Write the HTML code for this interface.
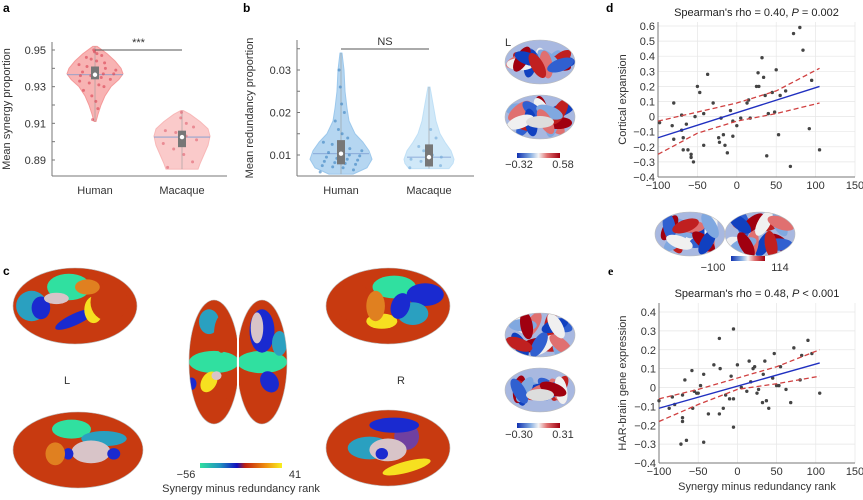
<!DOCTYPE html>
<html><head><meta charset="utf-8"><style>
body{margin:0;background:#fff;}
svg{display:block;font-family:"Liberation Sans",sans-serif;}
</style></head><body>
<svg id="fig" width="863" height="500" viewBox="0 0 863 500">
<defs>
<linearGradient id="bwr" x1="0" x2="1"><stop offset="0" stop-color="#1030b0"/><stop offset="0.3" stop-color="#80a8e0"/><stop offset="0.5" stop-color="#f4f4f4"/><stop offset="0.7" stop-color="#e07070"/><stop offset="1" stop-color="#a00010"/></linearGradient>
<linearGradient id="rank" x1="0" x2="1"><stop offset="0" stop-color="#30e0a0"/><stop offset="0.25" stop-color="#2090c0"/><stop offset="0.45" stop-color="#1010c0"/><stop offset="0.55" stop-color="#c02010"/><stop offset="0.8" stop-color="#f09010"/><stop offset="1" stop-color="#f8f020"/></linearGradient>
</defs>
<g id="labels" font-weight="bold" font-size="12">
<text x="3" y="12">a</text>
<text x="243" y="12">b</text>
<text x="3" y="275">c</text>
<text x="606" y="12">d</text>
<text x="608" y="275" font-family="Liberation Serif">e</text>
</g>
<g id="brains"></g>
<g id="pa"></g><g id="pb"></g><g id="pd"></g><g id="pe"></g>
</svg>
<script>
const NS="http://www.w3.org/2000/svg";
function el(t,a,p,txt){const e=document.createElementNS(NS,t);for(const k in a)e.setAttribute(k,a[k]);if(txt!==undefined)e.textContent=txt;(p||document.getElementById('fig')).appendChild(e);return e;}

// ---- Panel a data ----
const aCategories=["Human","Macaque"];
const aTicks=[0.89,0.91,0.93,0.95];
const aMedians=[0.9365,0.9025];
const aQ1=[0.934,0.897];const aQ3=[0.941,0.906];
const aViolinY_H=[0.911,0.915,0.92,0.925,0.93,0.934,0.937,0.94,0.944,0.948,0.952];
const aViolinW_H=[1,3,6,10,16,24,28,26,20,12,2];
const aViolinY_M=[0.885,0.888,0.893,0.898,0.903,0.907,0.911,0.915,0.917];
const aViolinW_M=[16,18,22,26,28,26,18,8,1];
const aPointsH=[0.912,0.918,0.922,0.925,0.928,0.930,0.931,0.932,0.933,0.934,0.935,0.936,0.936,0.937,0.937,0.938,0.938,0.939,0.94,0.94,0.941,0.942,0.943,0.944,0.945,0.946,0.947,0.948,0.949,0.95];
const aPointsM=[0.886,0.889,0.893,0.896,0.899,0.901,0.903,0.905,0.906,0.908,0.91,0.913,0.916];

// ---- Panel b data ----
const bCategories=["Human","Macaque"];
const bTicks=[0.01,0.02,0.03];
const bMedians=[0.0103,0.0095];
const bQ1=[0.0078,0.0073];const bQ3=[0.0135,0.0125];
const bViolinY_H=[0.0055,0.007,0.009,0.011,0.013,0.015,0.018,0.021,0.025,0.03,0.034];
const bViolinW_H=[12,26,31,28,22,14,8,6,4,3,1];
const bViolinY_M=[0.0068,0.008,0.009,0.011,0.013,0.015,0.018,0.022,0.026];
const bViolinW_M=[20,24,25,22,16,11,7,4,1];
const bPointsH=[0.006,0.0065,0.007,0.0072,0.0075,0.0078,0.008,0.0082,0.0085,0.0088,0.009,0.0092,0.0095,0.0098,0.01,0.0103,0.0106,0.011,0.0115,0.012,0.0125,0.013,0.014,0.015,0.016,0.018,0.02,0.022,0.026,0.03];
const bPointsM=[0.007,0.0075,0.008,0.0085,0.009,0.0095,0.01,0.011,0.012,0.014,0.016];

// ---- Panel d data ----
const dX=[-98,-82,-80,-80,-70,-70,-68,-68,-64,-62,-58,-58,-55,-53,-50,-47,-42,-42,-37,-30,-23,-22,-20,-17,-15,-12,-8,-5,-5,0,5,13,15,17,25,27,28,32,34,36,38,40,45,48,50,53,55,62,68,72,80,84,92,95,105];
const dY=[-0.04,-0.06,0.09,-0.15,0.01,-0.09,-0.14,-0.22,-0.05,-0.22,-0.25,-0.27,-0.30,0,0.20,0.16,0.02,-0.19,0.28,0.09,-0.14,-0.17,-0.01,-0.12,-0.19,-0.24,0.04,-0.03,-0.13,-0.06,-0.01,0.09,0.11,-0.01,0.2,0.29,0.2,0.39,0.26,0.14,-0.26,0.02,0.16,0.03,0.31,-0.12,0.14,0.17,-0.33,0.55,0.59,0.44,-0.08,0.24,-0.22];
const dFitX=[-100,105];const dFitY=[-0.14,0.2];
const dCiX=[-100,-50,0,50,105];
const dCiUp=[-0.03,0.03,0.09,0.17,0.32];
const dCiLo=[-0.25,-0.11,-0.03,0.02,0.09];
const dXTicks=[-100,-50,0,50,100,150];
const dYTicks=[-0.4,-0.3,-0.2,-0.1,0,0.1,0.2,0.3,0.4,0.5,0.6];

// ---- Panel e data ----
const eX=[-100,-87,-83,-80,-70,-70,-70,-72,-67,-65,-58,-57,-55,-52,-50,-47,-43,-43,-37,-30,-23,-23,-22,-18,-15,-10,-8,-5,-5,-5,0,5,12,15,17,20,22,25,27,32,33,35,37,40,45,47,50,53,55,62,68,72,80,82,90,95,105];
const eY=[-0.07,-0.11,-0.05,-0.09,-0.04,-0.16,-0.18,-0.30,0.04,-0.28,0.09,-0.11,-0.02,-0.03,-0.03,0.01,0.07,-0.29,-0.14,0.12,0.26,-0.14,0.10,-0.11,-0.04,-0.06,0.06,-0.06,0.31,-0.21,0.12,0,-0.02,0.14,0.03,0.10,0.11,-0.03,-0.01,-0.08,0.07,0.14,-0.07,-0.11,0.05,0.18,0.01,0.01,0.11,-0.01,-0.08,0.21,0.04,0.17,0.25,0.18,-0.03];
const eFitX=[-100,105];const eFitY=[-0.11,0.13];
const eCiX=[-100,-50,0,50,105];
const eCiUp=[-0.06,-0.01,0.05,0.11,0.20];
const eCiLo=[-0.18,-0.09,-0.01,0.02,0.06];
const eXTicks=[-100,-50,0,50,100,150];
const eYTicks=[-0.4,-0.3,-0.2,-0.1,0,0.1,0.2,0.3,0.4];

function lin(d0,d1,r0,r1){return v=>r0+(v-d0)*(r1-r0)/(d1-d0);}

function violinPanel(g,cfg){
  const {y,cx,axL,axB,axT,ticks,fmt,cats,vy,vw,pts,q1,q3,med,fill,ptc,boxc,sig,sigY,ylab,ylabX,minor}=cfg;
  el('line',{x1:axL,y1:axT,x2:axL,y2:axB,stroke:'#777','stroke-width':1},g);
  el('line',{x1:axL,y1:axB,x2:cx[1]+45,y2:axB,stroke:'#777','stroke-width':1},g);
  minor.forEach(t=>{const l=el('line',{x1:axL,x2:axL+3,y1:y(t),y2:y(t),stroke:'#777'},g);});
  ticks.forEach(t=>{el('line',{x1:axL,x2:axL+3,y1:y(t),y2:y(t),stroke:'#777'},g);
    const tx=el('text',{x:axL-6,y:y(t)+4,'text-anchor':'end','font-size':11,fill:'#333'},g,fmt(t));
    });
  const yl=el('text',{x:ylabX,y:(axT+axB)/2,'text-anchor':'middle','font-size':11,fill:'#333',transform:`rotate(-90 ${ylabX} ${(axT+axB)/2})`},g,ylab);
  
  cats.forEach((c,i)=>{
    const x=cx[i];let L=[],R=[];
    vy[i].forEach((v,j)=>{L.push(`${x-vw[i][j]},${y(v)}`);R.unshift(`${x+vw[i][j]},${y(v)}`);});
    const p=el('polygon',{points:L.concat(R).join(' '),fill:fill[i],stroke:fill[i],'stroke-width':1,'stroke-linejoin':'round','fill-opacity':0.75},g);
    
    const mw=vw[i][vy[i].findIndex(v=>v>=med[i])]||20;
    el('line',{x1:x-mw,x2:x+mw,y1:y(med[i]),y2:y(med[i]),stroke:'#7a9ad0','stroke-width':0.8},g);
    el('line',{x1:x,x2:x,y1:y(vy[i][0]),y2:y(vy[i][vy[i].length-1]),stroke:'#999','stroke-width':0.6},g);
    pts[i].forEach((v,k)=>{const off=((k*37)%21-10)/10*Math.min(vw[i][vy[i].findIndex(q=>q>=v)]||5,26)*0.8;
      const d=el('circle',{cx:x+off,cy:y(v),r:1.5,fill:ptc[i],'fill-opacity':0.6},g);});
    const b=el('rect',{x:x-4,y:y(q3[i]),width:8,height:y(q1[i])-y(q3[i]),fill:boxc},g);
    el('circle',{cx:x,cy:y(med[i]),r:2.2,fill:'#fff'},g);
    const t=el('text',{x:x,y:axB+18,'text-anchor':'middle','font-size':11,fill:'#333'},g,c);
    
  });
  el('line',{x1:cx[0],x2:cx[1],y1:sigY,y2:sigY,stroke:'#555','stroke-width':1},g);
  const s=el('text',{x:(cx[0]+cx[1])/2,y:sigY-4,'text-anchor':'middle','font-size':11,fill:'#333'},g,sig);
  
}
const ya=lin(0.89,0.95,160,50);
violinPanel(document.getElementById('pa'),{y:ya,cx:[95,182],axL:52,axB:176,axT:42,ticks:aTicks,fmt:t=>t.toFixed(2),cats:aCategories,
 vy:[aViolinY_H,aViolinY_M],vw:[aViolinW_H,aViolinW_M],pts:[aPointsH,aPointsM],q1:aQ1,q3:aQ3,med:aMedians,
 fill:['#f59a9a','#f8b8b8'],ptc:['#d84050','#e06070'],boxc:'#777',sig:'***',sigY:50,ylab:'Mean synergy proportion',ylabX:10,minor:[0.90,0.92,0.94]});
const yb=lin(0.01,0.03,155,70);
violinPanel(document.getElementById('pb'),{y:yb,cx:[341,429],axL:297,axB:176,axT:40,ticks:bTicks,fmt:t=>t.toFixed(2),cats:bCategories,
 vy:[bViolinY_H,bViolinY_M],vw:[bViolinW_H,bViolinW_M],pts:[bPointsH,bPointsM],q1:bQ1,q3:bQ3,med:bMedians,
 fill:['#9cc8ec','#c0e0f6'],ptc:['#3a80c0','#70a8d8'],boxc:'#777',sig:'NS',sigY:49,ylab:'Mean redundancy proportion',ylabX:253,minor:[0.015,0.025,0.035]});

function scatterPanel(g,cfg){
  const {x,y,xT,yT,X,Y,fx,fy,cx,cu,cl,title,x0,x1,y0,y1,xlab,ylab,ylabX}=cfg;
  xT.forEach(t=>{const l=el('line',{x1:x(t),x2:x(t),y1:y0,y2:y1,stroke:'#e6e6e6','stroke-width':0.7},g);});
  yT.forEach(t=>{const l=el('line',{x1:x0,x2:x1,y1:y(t),y2:y(t),stroke:'#e6e6e6','stroke-width':0.7},g);});
  el('line',{x1:x0,x2:x0,y1:y0,y2:y1,stroke:'#777'},g);
  el('line',{x1:x0,x2:x1,y1:y1,y2:y1,stroke:'#777'},g);
  xT.forEach(t=>{const tx=el('text',{x:x(t),y:y1+12,'text-anchor':'middle','font-size':11,fill:'#333'},g,t<0?'\u2212'+(-t):String(t));
    });
  yT.forEach(t=>{const s=Math.abs(t)<1e-9?'0':(t<0?'\u2212'+(-t).toFixed(1):t.toFixed(1));
    const tx=el('text',{x:x0-3,y:y(t)+4,'text-anchor':'end','font-size':11,fill:'#333'},g,s);
    });
  X.forEach((v,i)=>{const c=el('circle',{cx:x(v),cy:y(Y[i]),r:1.7,fill:'#444'},g);});
  const f=el('line',{x1:x(fx[0]),y1:y(fy[0]),x2:x(fx[1]),y2:y(fy[1]),stroke:'#2030c0','stroke-width':1.4},g);
  const up=el('polyline',{points:cx.map((v,i)=>x(v)+','+y(cu[i])).join(' '),fill:'none',stroke:'#d04040','stroke-width':1.3,'stroke-dasharray':'5,3'},g);
  const lo=el('polyline',{points:cx.map((v,i)=>x(v)+','+y(cl[i])).join(' '),fill:'none',stroke:'#d04040','stroke-width':1.3,'stroke-dasharray':'5,3'},g);
  const t=el('text',{x:(x0+x1)/2,y:y0-6,'text-anchor':'middle','font-size':11,fill:'#222'},g);
  
  t.innerHTML=title;
  const yl=el('text',{x:ylabX,y:(y0+y1)/2,'text-anchor':'middle','font-size':11,fill:'#333',transform:`rotate(-90 ${ylabX} ${(y0+y1)/2})`},g,ylab);
  
  if(xlab){const xl=el('text',{x:(x0+x1)/2,y:y1+27,'text-anchor':'middle','font-size':11,fill:'#333'},g,xlab);}
}
const xd=lin(-100,150,658,855), ydd=lin(-0.4,0.6,177,26);
scatterPanel(document.getElementById('pd'),{x:xd,y:ydd,xT:dXTicks,yT:dYTicks,X:dX,Y:dY,fx:dFitX,fy:dFitY,cx:dCiX,cu:dCiUp,cl:dCiLo,
 title:"Spearman's rho = 0.40, <tspan font-style='italic'>P</tspan> = 0.002",x0:658,x1:855,y0:22,y1:177,ylab:'Cortical expansion',ylabX:626});
const xe=lin(-100,150,659,855), ye=lin(-0.4,0.4,463,312);
scatterPanel(document.getElementById('pe'),{x:xe,y:ye,xT:eXTicks,yT:eYTicks,X:eX,Y:eY,fx:eFitX,fy:eFitY,cx:eCiX,cu:eCiUp,cl:eCiLo,
 title:"Spearman's rho = 0.48, <tspan font-style='italic'>P</tspan> &lt; 0.001",x0:659,x1:855,y0:303,y1:463,xlab:'Synergy minus redundancy rank',ylab:'HAR-brain gene expression',ylabX:626});

// ---- brain illustrations ----
const B=document.getElementById('brains');
let cid=0;
function brain(cx,cy,rx,ry,name,base,blobs){
  const id='clip'+(cid++);
  const cp=el('clipPath',{id:id},B);el('ellipse',{cx:cx,cy:cy,rx:rx,ry:ry},cp);
  const g=el('g',{'clip-path':`url(#${id})`},B);
  el('rect',{x:cx-rx,y:cy-ry,width:2*rx,height:2*ry,fill:base},g);
  blobs.forEach(b=>el('ellipse',{cx:cx+b[0]*rx,cy:cy+b[1]*ry,rx:b[2]*rx,ry:b[3]*ry,fill:b[4],transform:`rotate(${b[5]||0} ${cx+b[0]*rx} ${cy+b[1]*ry})`},g));
  el('ellipse',{cx:cx,cy:cy,rx:rx,ry:ry,fill:'none',stroke:'#bbb','stroke-width':0.6},B);
}
const R='#c83a10',G='#30e0a0',Bl='#1a2ad0',T='#2aa0c0',Y='#f6e020',O='#e08020',P='#d8c4c8';
brain(75,306,62,38,'brain-lateral-left',R,[[-0.1,-0.5,0.35,0.35,G],[-0.7,0,0.25,0.4,T],[-0.55,0.05,0.15,0.3,Bl],[0,0.35,0.35,0.15,Bl,-25],[0.3,0.1,0.15,0.35,Y],[0.55,-0.1,0.3,0.5,R],[0.2,-0.5,0.2,0.2,O],[-0.3,-0.2,0.2,0.15,P]]);
brain(388,306,62,38,'brain-lateral-right',R,[[0.1,-0.5,0.35,0.3,G],[0.6,-0.3,0.3,0.3,Bl],[0.4,0.2,0.25,0.3,T],[-0.1,0.4,0.25,0.2,Y],[0.2,0,0.15,0.35,Bl,20],[-0.55,-0.1,0.3,0.5,R],[-0.2,0,0.15,0.4,O]]);
brain(78,450,65,38,'brain-medial-left',R,[[-0.1,-0.55,0.3,0.25,G],[0.4,-0.3,0.35,0.2,T],[0.2,0.05,0.3,0.3,P],[0.55,0.1,0.1,0.15,Bl],[-0.15,0.1,0.08,0.15,Bl],[-0.35,0.1,0.15,0.3,O]]);
brain(388,448,62,38,'brain-medial-right',R,[[-0.3,0,0.35,0.3,T],[0.3,-0.3,0.2,0.35,'#7040a0'],[0,0.05,0.3,0.3,P],[0.3,0.5,0.4,0.15,Y,-15],[0.1,-0.6,0.4,0.2,Bl],[-0.1,0.15,0.1,0.15,Bl]]);
brain(214,362,25,62,'brain-dorsal-left',R,[[0,0,1,0.18,G],[-0.2,-0.65,0.4,0.2,T],[0.3,-0.45,0.3,0.3,R],[-0.2,0.32,0.3,0.18,Y,30],[0.1,0.22,0.2,0.07,P],[0,0.85,1,0.3,R],[-0.9,0.35,0.2,0.1,Bl]]);
brain(262,362,25,62,'brain-dorsal-right',R,[[0,0,1,0.18,G],[0,-0.5,0.5,0.35,Bl],[-0.2,-0.55,0.25,0.25,P],[0.3,0.32,0.35,0.18,Bl,-30],[0,0.85,1,0.3,R],[0.7,-0.3,0.3,0.2,T]]);
el('line',{x1:238,x2:238,y1:300,y2:425,stroke:'#fff','stroke-width':2},B);
function smallBrain(cx,cy,name,seed){
  const cols=['#1040c0','#c02020','#f0f0f0','#80a8e0','#e07070','#a00010','#3060d0'];
  brain(cx,cy,35,22,name,'#a8b8e0',Array.from({length:16},(_,i)=>{const a=(i*2.4+seed);return [Math.cos(a)*0.6,Math.sin(a*1.3)*0.5,0.4,0.28,cols[(i+seed)%7],(i*40)%180];}));
}
smallBrain(540,62,'brain-small-lateral-b',0);smallBrain(540,117,'brain-small-medial-b',3);
smallBrain(540,335,'brain-small-lateral-e',1);smallBrain(540,390,'brain-small-medial-e',5);
smallBrain(690,234,'brain-small-d-left',2);smallBrain(760,234,'brain-small-d-right',4);
el('ellipse',{cx:540,cy:122,rx:14,ry:6,fill:'#ddd'},B);el('ellipse',{cx:540,cy:395,rx:14,ry:6,fill:'#ddd'},B);
function cbar(x,y,w,grad,l,r,name,lx,rx){
  const c=el('rect',{x:x,y:y,width:w,height:5,fill:`url(#${grad})`},B);
  const a=el('text',{x:lx,y:y+15,'text-anchor':'middle','font-size':11,fill:'#333'},B,l);
  const b=el('text',{x:rx,y:y+15,'text-anchor':'middle','font-size':11,fill:'#333'},B,r);
}
cbar(517,153,43,'bwr','\u22120.32','0.58','colorbar-b',519,563);
cbar(517,423,43,'bwr','\u22120.30','0.31','colorbar-e',519,563);
cbar(731,256,34,'bwr','\u2212100','114','colorbar-d',713,780);
cbar(200,463,82,'rank','\u221256','41','colorbar-c',186,295);
const ct=el('text',{x:241,y:492,'text-anchor':'middle','font-size':11,fill:'#333'},B,'Synergy minus redundancy rank');
[['L',67,384,'hemisphere-label-left'],['R',401,384,'hemisphere-label-right'],['L',508,46,'hemisphere-label-b']].forEach(a=>{const t=el('text',{x:a[1],y:a[2],'text-anchor':'middle','font-size':11,fill:'#333'},B,a[0]);});
</script>
</body></html>
